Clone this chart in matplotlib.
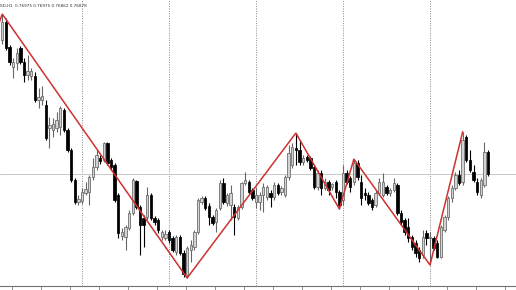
import matplotlib
matplotlib.use("Agg")
import matplotlib.pyplot as plt
import numpy as np

# header string shown at the top-left of the terminal window
HEADER = "SD,H1  0.76975 0.76975 0.76862 0.76878"

# H1 candles (oldest first)
opens = [
    0.77550, 0.77640, 0.77515, 0.77415, 0.77435, 0.77510, 0.77440, 0.77375, 0.77370, 0.77370,
    0.77250, 0.77250, 0.77225, 0.77110, 0.77100, 0.77110, 0.77115, 0.77200, 0.77100, 0.77000,
    0.76850, 0.76740, 0.76745, 0.76785, 0.76790, 0.76865, 0.76915, 0.76960, 0.76950, 0.77035,
    0.76950, 0.76925, 0.76775, 0.76570, 0.76565, 0.76610, 0.76685, 0.76845, 0.76715, 0.76660,
    0.76665, 0.76775, 0.76660, 0.76650, 0.76565, 0.76560, 0.76590, 0.76560, 0.76490, 0.76565,
    0.76485, 0.76375, 0.76500, 0.76515, 0.76590, 0.76740, 0.76760, 0.76720, 0.76665, 0.76640,
    0.76710, 0.76835, 0.76735, 0.76725, 0.76715, 0.76660, 0.76715, 0.76835, 0.76840, 0.76800,
    0.76740, 0.76740, 0.76775, 0.76765, 0.76785, 0.76765, 0.76825, 0.76790, 0.76775, 0.76865,
    0.76925, 0.77010, 0.77000, 0.76940, 0.76965, 0.76960, 0.76915, 0.76815, 0.76885, 0.76810,
    0.76840, 0.76815, 0.76840, 0.76790, 0.76750, 0.76885, 0.76860, 0.76840, 0.76935, 0.76840,
    0.76785, 0.76775, 0.76750, 0.76725, 0.76785, 0.76775, 0.76815, 0.76785, 0.76800, 0.76825,
    0.76685, 0.76650, 0.76615, 0.76565, 0.76535, 0.76500, 0.76475, 0.76585, 0.76560, 0.76560,
    0.76535, 0.76465, 0.76600, 0.76665, 0.76760, 0.76810, 0.76875, 0.76840, 0.77065, 0.76950,
    0.76890, 0.76840, 0.76775, 0.76825, 0.76990,
]
highs = [
    0.77680, 0.77660, 0.77525, 0.77460, 0.77510, 0.77520, 0.77460, 0.77475, 0.77410, 0.77390,
    0.77310, 0.77320, 0.77250, 0.77165, 0.77160, 0.77190, 0.77220, 0.77210, 0.77110, 0.77010,
    0.76860, 0.76775, 0.76810, 0.76840, 0.76875, 0.76960, 0.77000, 0.76975, 0.77040, 0.77040,
    0.76960, 0.76935, 0.76785, 0.76610, 0.76625, 0.76700, 0.76860, 0.76850, 0.76725, 0.76675,
    0.76815, 0.76785, 0.76670, 0.76660, 0.76600, 0.76600, 0.76600, 0.76570, 0.76575, 0.76575,
    0.76500, 0.76520, 0.76550, 0.76600, 0.76760, 0.76770, 0.76770, 0.76735, 0.76675, 0.76710,
    0.76850, 0.76860, 0.76785, 0.76825, 0.76730, 0.76725, 0.76840, 0.76890, 0.76850, 0.76810,
    0.76815, 0.76790, 0.76835, 0.76825, 0.76800, 0.76840, 0.76835, 0.76820, 0.76875, 0.77025,
    0.77035, 0.77085, 0.77050, 0.76975, 0.76975, 0.76970, 0.76925, 0.76900, 0.76900, 0.76860,
    0.76850, 0.76835, 0.76850, 0.76800, 0.76925, 0.76900, 0.76870, 0.76955, 0.76950, 0.76875,
    0.76810, 0.76790, 0.76760, 0.76800, 0.76860, 0.76885, 0.76825, 0.76810, 0.76860, 0.76835,
    0.76700, 0.76660, 0.76660, 0.76575, 0.76550, 0.76515, 0.76600, 0.76600, 0.76590, 0.76570,
    0.76550, 0.76625, 0.76675, 0.76770, 0.76825, 0.76890, 0.76900, 0.77090, 0.77075, 0.77000,
    0.76925, 0.76860, 0.76860, 0.77040, 0.77000,
]
lows = [
    0.77530, 0.77500, 0.77425, 0.77360, 0.77400, 0.77430, 0.77340, 0.77350, 0.77350, 0.77240,
    0.77210, 0.77225, 0.77050, 0.77010, 0.77065, 0.77090, 0.77075, 0.77090, 0.76990, 0.76840,
    0.76730, 0.76725, 0.76730, 0.76775, 0.76725, 0.76850, 0.76900, 0.76930, 0.76940, 0.76925,
    0.76900, 0.76740, 0.76560, 0.76550, 0.76500, 0.76600, 0.76675, 0.76705, 0.76475, 0.76515,
    0.76650, 0.76650, 0.76625, 0.76585, 0.76550, 0.76550, 0.76535, 0.76490, 0.76475, 0.76475,
    0.76365, 0.76360, 0.76440, 0.76500, 0.76580, 0.76730, 0.76700, 0.76625, 0.76625, 0.76590,
    0.76700, 0.76730, 0.76720, 0.76650, 0.76575, 0.76650, 0.76705, 0.76825, 0.76780, 0.76750,
    0.76710, 0.76700, 0.76690, 0.76750, 0.76715, 0.76750, 0.76775, 0.76775, 0.76765, 0.76850,
    0.76910, 0.76925, 0.76925, 0.76925, 0.76940, 0.76900, 0.76805, 0.76800, 0.76775, 0.76800,
    0.76775, 0.76800, 0.76760, 0.76705, 0.76725, 0.76830, 0.76790, 0.76825, 0.76850, 0.76725,
    0.76750, 0.76725, 0.76700, 0.76715, 0.76775, 0.76765, 0.76775, 0.76770, 0.76790, 0.76675,
    0.76625, 0.76575, 0.76540, 0.76500, 0.76465, 0.76440, 0.76460, 0.76525, 0.76425, 0.76500,
    0.76460, 0.76460, 0.76590, 0.76650, 0.76740, 0.76800, 0.76825, 0.76825, 0.76940, 0.76890,
    0.76840, 0.76775, 0.76760, 0.76815, 0.76870,
]
closes = [
    0.77640, 0.77510, 0.77440, 0.77440, 0.77485, 0.77440, 0.77375, 0.77395, 0.77395, 0.77250,
    0.77265, 0.77270, 0.77060, 0.77125, 0.77130, 0.77150, 0.77210, 0.77100, 0.77000, 0.76850,
    0.76740, 0.76755, 0.76790, 0.76805, 0.76865, 0.76915, 0.76975, 0.76945, 0.77035, 0.76935,
    0.76915, 0.76750, 0.76585, 0.76590, 0.76615, 0.76685, 0.76850, 0.76715, 0.76625, 0.76625,
    0.76775, 0.76660, 0.76640, 0.76600, 0.76590, 0.76580, 0.76550, 0.76500, 0.76565, 0.76485,
    0.76380, 0.76510, 0.76525, 0.76590, 0.76750, 0.76760, 0.76710, 0.76665, 0.76635, 0.76700,
    0.76835, 0.76740, 0.76775, 0.76785, 0.76665, 0.76715, 0.76835, 0.76850, 0.76790, 0.76760,
    0.76775, 0.76775, 0.76815, 0.76815, 0.76765, 0.76825, 0.76785, 0.76810, 0.76865, 0.76985,
    0.77015, 0.77000, 0.76940, 0.76960, 0.76950, 0.76910, 0.76815, 0.76885, 0.76810, 0.76840,
    0.76800, 0.76830, 0.76790, 0.76725, 0.76885, 0.76840, 0.76815, 0.76935, 0.76865, 0.76760,
    0.76775, 0.76735, 0.76715, 0.76785, 0.76840, 0.76840, 0.76785, 0.76800, 0.76835, 0.76685,
    0.76640, 0.76590, 0.76560, 0.76515, 0.76485, 0.76460, 0.76565, 0.76560, 0.76565, 0.76510,
    0.76465, 0.76615, 0.76665, 0.76760, 0.76810, 0.76875, 0.76835, 0.77050, 0.76950, 0.76900,
    0.76850, 0.76790, 0.76850, 0.76990, 0.76880,
]

# zigzag turning points: bar index, price
zz_bar = [-3, 0, 51, 81, 93, 97, 118, 127]
zz_price = [0.77525, 0.77680, 0.76360, 0.77085, 0.76705, 0.76955, 0.76425, 0.77090]

# day separators (bar index of the first bar of each day)
day_sep_bars = [22, 46, 70, 94, 118]

BULL_FACE = "#d2d2d2"
BULL_EDGE = "#666666"
BEAR = "#000000"
ZZ_RED = "#d03030"


def draw_candles(ax):
    o = np.array(opens)
    h = np.array(highs)
    l = np.array(lows)
    c = np.array(closes)
    x = np.arange(len(o))
    bull = c >= o

    ax.vlines(x[bull], l[bull], h[bull], color=BULL_EDGE, lw=0.8, zorder=2)
    ax.vlines(x[~bull], l[~bull], h[~bull], color=BEAR, lw=0.8, zorder=2)

    body = np.maximum(np.abs(c - o), 0.00002)
    bottom = np.minimum(o, c)
    ax.bar(x[bull], body[bull], bottom=bottom[bull], width=0.64,
           color=BULL_FACE, edgecolor=BULL_EDGE, linewidth=0.55, zorder=3)
    ax.bar(x[~bull], body[~bull], bottom=bottom[~bull], width=0.64,
           color=BEAR, edgecolor=BEAR, linewidth=0.55, zorder=3)


def main():
    fig = plt.figure(figsize=(5.16, 2.90), dpi=100)
    ax = fig.add_axes([0.0, 4 / 290, 1.0, 286 / 290])

    # px -> bar: x = 2.25 + 3.625 * i
    ax.set_xlim(-2.25 / 3.625, (516 - 2.25) / 3.625)
    ax.set_ylim(0.7632, 0.7775)

    for b in day_sep_bars:
        ax.axvline(b, color="#8a8a8a", lw=0.7, ls=(0, (1, 1.5)), zorder=1)

    # bid line at the last close
    ax.axhline(closes[-1], color="#c8c8c8", lw=0.7, zorder=1)

    draw_candles(ax)

    ax.plot(zz_bar, zz_price, color=ZZ_RED, lw=1.1, zorder=4,
            solid_joinstyle="miter")

    ax.text(0.0, 0.985, HEADER, transform=ax.transAxes, ha="left", va="top",
            fontsize=3.0, color="#303030")

    for side in ("top", "right", "left"):
        ax.spines[side].set_visible(False)
    ax.spines["bottom"].set_color("#707070")
    ax.spines["bottom"].set_linewidth(0.8)

    ax.set_yticks([])
    ax.set_xticks(np.arange(2.7, 142, 8))
    ax.set_xticklabels([])
    ax.tick_params(axis="x", length=3, width=0.6, color="#808080", direction="out")

    fig.savefig("out.png", dpi=100)
    plt.close(fig)


if __name__ == "__main__":
    main()
